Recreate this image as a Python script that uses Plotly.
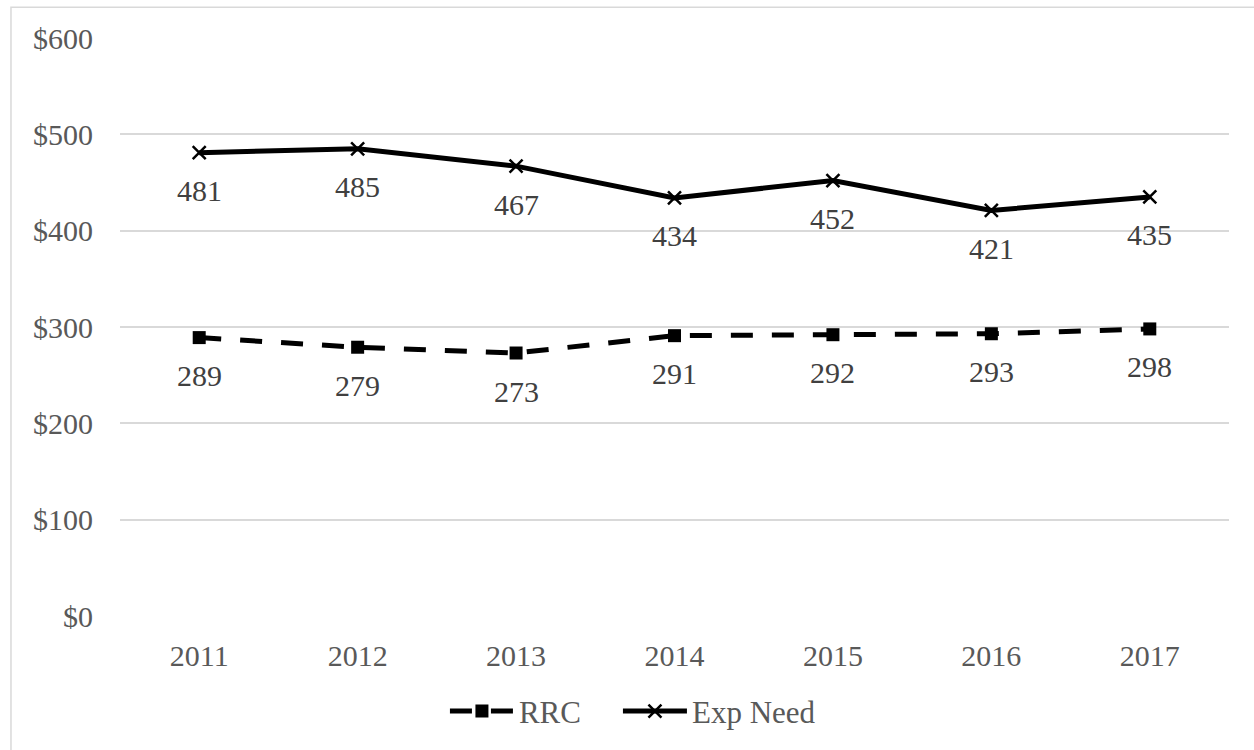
import plotly.graph_objects as go

years = [2011, 2012, 2013, 2014, 2015, 2016, 2017]
rrc = [289, 279, 273, 291, 292, 293, 298]
exp_need = [481, 485, 467, 434, 452, 421, 435]
y_ticks = [0, 100, 200, 300, 400, 500, 600]
y_tick_text = ["$0", "$100", "$200", "$300", "$400", "$500", "$600"]

FONT = "Liberation Serif, Times New Roman, serif"
TICK_COLOR = "#595959"
LABEL_COLOR = "#404040"
GRID = "#d9d9d9"

fig = go.Figure()

fig.add_trace(go.Scatter(
    x=years, y=rrc, name="RRC", mode="lines+markers", legend="legend",
    line=dict(color="black", width=5, dash="22px,19px"),
    marker=dict(symbol="square", size=13, color="black"),
))
fig.add_trace(go.Scatter(
    x=years, y=exp_need, name="Exp Need", mode="lines+markers", legend="legend2",
    line=dict(color="black", width=5),
    marker=dict(symbol="x-thin", size=13, color="black",
                line=dict(color="black", width=2.5)),
))

# value labels below each point
annotations = []
for series in (rrc, exp_need):
    for yr, v in zip(years, series):
        annotations.append(dict(
            x=yr, y=v, xref="x", yref="y", text=str(v), showarrow=False,
            yanchor="middle", yshift=-38,
            font=dict(family=FONT, size=30, color=LABEL_COLOR),
        ))

legend_style = dict(orientation="h", xanchor="left", y=-0.165, yanchor="middle",
                    font=dict(family=FONT, size=31, color=TICK_COLOR),
                    itemwidth=64, bgcolor="rgba(0,0,0,0)")

fig.update_layout(
    width=1254, height=750,
    margin=dict(l=120, r=25, t=38, b=132),
    paper_bgcolor="white", plot_bgcolor="white",
    font=dict(family=FONT, size=30, color=TICK_COLOR),
    showlegend=True,
    legend=dict(x=0.293, **legend_style),
    legend2=dict(x=0.449, **legend_style),
    annotations=annotations,
    shapes=[dict(type="rect", xref="paper", yref="paper",
                 x0=-0.0983, x1=1.03, y0=-0.25, y1=1.0534,
                 line=dict(color=GRID, width=1.5), fillcolor="rgba(0,0,0,0)",
                 layer="below")],
)

fig.update_xaxes(
    range=[years[0] - 0.5, years[-1] + 0.5], tickvals=years,
    ticktext=[str(y) for y in years],
    showgrid=False, showline=False, zeroline=False,
    ticks="", ticklabelstandoff=19,
    tickfont=dict(family=FONT, size=30, color=TICK_COLOR),
)
fig.update_yaxes(
    range=[0, 600], tickvals=y_ticks, ticktext=y_tick_text,
    showgrid=True, gridcolor=GRID, gridwidth=1.5,
    zeroline=False, showline=False, ticks="", ticklabelstandoff=26,
    tickfont=dict(family=FONT, size=30, color=TICK_COLOR),
)

fig.write_html("out.html")
